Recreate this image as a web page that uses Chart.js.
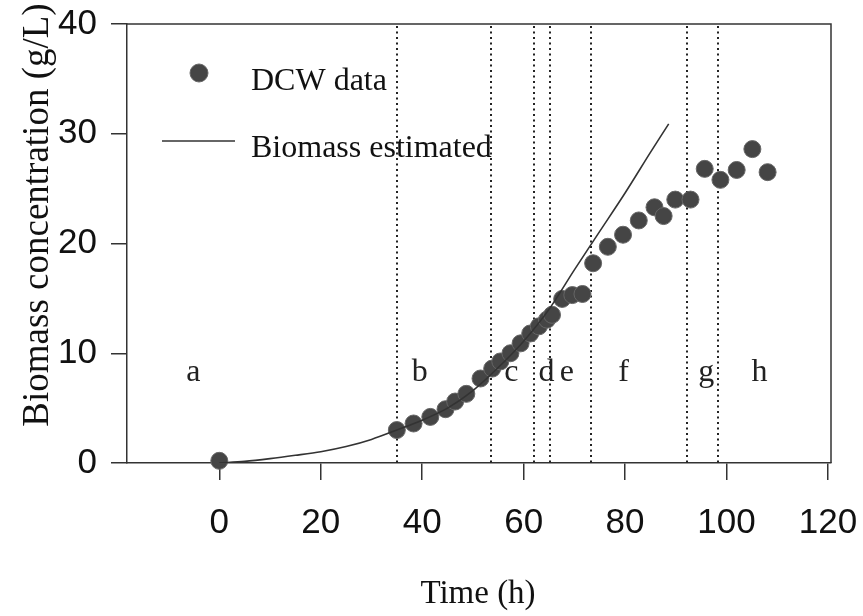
<!DOCTYPE html>
<html>
<head>
<meta charset="utf-8">
<script src="https://cdn.jsdelivr.net/npm/chart.js@4.4.1/dist/chart.umd.min.js"></script>
<style>
  body { margin: 0; background: #fff; }
  #wrap { width: 863px; height: 616px; }
</style>
</head>
<body>
<div id="wrap"><canvas id="myChart"></canvas></div>
<script>
// datos
const dcwTime = [0, 35.0, 38.3, 41.6, 44.6, 46.5, 48.7, 51.5, 53.8, 55.4, 57.4, 59.4, 61.3, 63.0, 64.6, 65.6,
    67.6, 69.6, 71.6, 73.7, 76.6, 79.6, 82.7, 85.8, 87.6, 89.9, 92.9, 95.7, 98.8, 102.0, 105.1, 108.1];
const dcwValues = [0.2, 3.0, 3.6, 4.2, 4.9, 5.6, 6.3, 7.7, 8.6, 9.25, 10.0, 10.9, 11.8, 12.45, 13.06, 13.5,
    14.95, 15.3, 15.4, 18.2, 19.7, 20.8, 22.1, 23.3, 22.5, 24.0, 24.0, 26.8, 25.8, 26.7, 28.6, 26.5];

const estTime = [0, 5, 10, 15, 20, 25, 30, 35, 40, 45, 50, 55, 60, 65, 70, 75, 80, 85, 88.6];
const estValues = [0, 0.15, 0.4, 0.7, 1.03, 1.5, 2.15, 3.0, 3.9, 5.0, 6.6, 8.7, 11.1, 14.0, 17.6, 21.1, 24.6, 28.3, 30.9];

// limites de fases (lineas punteadas) y etiquetas
const phaseLines = [35.1, 53.5, 62.0, 65.2, 73.3, 92.3, 98.4];
const phaseLabels = ['a', 'b', 'c', 'd', 'e', 'f', 'g', 'h'];
const phaseLabelX = [-5.1, 39.5, 57.6, 64.5, 68.5, 79.7, 96.0, 106.5];
const phaseLabelY = 8.2;

const xTicks = [0, 20, 40, 60, 80, 100, 120];
const yTicks = [0, 10, 20, 30, 40];

const serif = "'Liberation Serif', 'Times New Roman', serif";
const sans = "'Liberation Sans', Arial, sans-serif";

const decoraciones = {
    id: 'decoraciones',
    beforeDatasetsDraw(chart) {
        const ctx = chart.ctx;
        const a = chart.chartArea;
        const xs = chart.scales.x;
        const ys = chart.scales.y;
        ctx.save();
        // lineas punteadas
        ctx.strokeStyle = '#222';
        ctx.lineWidth = 2;
        ctx.setLineDash([2, 3.5]);
        phaseLines.forEach(v => {
            const px = Math.round(xs.getPixelForValue(v));
            ctx.beginPath();
            ctx.moveTo(px, a.top + 2);
            ctx.lineTo(px, a.bottom);
            ctx.stroke();
        });
        ctx.setLineDash([]);
        // marco superior y derecho
        ctx.strokeStyle = '#333';
        ctx.lineWidth = 1.5;
        ctx.beginPath();
        ctx.moveTo(a.left, a.top);
        ctx.lineTo(a.right, a.top);
        ctx.lineTo(a.right, a.bottom);
        ctx.stroke();
        // letras de fases
        ctx.fillStyle = '#222';
        ctx.font = '32px ' + serif;
        ctx.textAlign = 'center';
        ctx.textBaseline = 'middle';
        phaseLabels.forEach((t, i) => {
            ctx.fillText(t, xs.getPixelForValue(phaseLabelX[i]), ys.getPixelForValue(phaseLabelY));
        });
        ctx.restore();
    },
    afterDraw(chart) {
        const ctx = chart.ctx;
        ctx.save();
        // leyenda
        ctx.fillStyle = '#454545';
        ctx.strokeStyle = '#666';
        ctx.lineWidth = 1;
        ctx.beginPath();
        ctx.arc(199, 73, 9, 0, Math.PI * 2);
        ctx.fill();
        ctx.stroke();
        ctx.strokeStyle = '#333';
        ctx.lineWidth = 1.5;
        ctx.beginPath();
        ctx.moveTo(162, 141);
        ctx.lineTo(235, 141);
        ctx.stroke();
        ctx.fillStyle = '#111';
        ctx.font = '32px ' + serif;
        ctx.textAlign = 'left';
        ctx.textBaseline = 'alphabetic';
        ctx.fillText('DCW data', 251, 90);
        ctx.fillText('Biomass estimated', 251, 157);
        // titulos de ejes
        ctx.font = '33px ' + serif;
        ctx.textAlign = 'center';
        ctx.fillText('Time (h)', 478, 603);
        ctx.translate(48, 215);
        ctx.rotate(-Math.PI / 2);
        ctx.font = '37px ' + serif;
        ctx.fillText('Biomass concentration (g/L)', 0, 0);
        ctx.restore();
    }
};

const ctx = document.getElementById('myChart').getContext('2d');
const myChart = new Chart(ctx, {
    type: 'scatter',
    data: {
        datasets: [{
            label: 'Biomass estimated',
            type: 'line',
            data: estTime.map((t, i) => ({ x: t, y: estValues[i] })),
            borderColor: '#333',
            borderWidth: 1.6,
            pointRadius: 0,
            tension: 0.3,
            fill: false
        }, {
            label: 'DCW data',
            data: dcwTime.map((t, i) => ({ x: t, y: dcwValues[i] })),
            backgroundColor: '#454545',
            borderColor: '#666',
            borderWidth: 1,
            pointRadius: 8.5,
            clip: false
        }]
    },
    options: {
        responsive: true,
        maintainAspectRatio: false,
        animation: false,
        layout: { padding: { left: 0, right: 32, top: 24, bottom: 0 } },
        plugins: {
            legend: { display: false },
            tooltip: { enabled: false }
        },
        scales: {
            x: {
                type: 'linear',
                min: -18.2,
                max: 120.6,
                afterBuildTicks: s => { s.ticks = xTicks.map(v => ({ value: v })); },
                afterFit: s => { s.height = 616 - 463; s.paddingLeft = 0; s.paddingRight = 0; },
                grid: { drawOnChartArea: false, tickLength: 17, color: '#333', lineWidth: 1.5 },
                border: { color: '#333', width: 1.5 },
                ticks: { font: { family: sans, size: 35 }, color: '#111', padding: 22, maxRotation: 0, autoSkip: false }
            },
            y: {
                min: 0,
                max: 40,
                afterBuildTicks: s => { s.ticks = yTicks.map(v => ({ value: v })); },
                afterFit: s => { s.width = 127; s.paddingTop = 0; s.paddingBottom = 0; },
                grid: { drawOnChartArea: false, tickLength: 16, color: '#333', lineWidth: 1.5 },
                border: { color: '#333', width: 1.5 },
                ticks: { font: { family: sans, size: 35 }, color: '#111', padding: 14 }
            }
        }
    },
    plugins: [decoraciones]
});
</script>
</body>
</html>
